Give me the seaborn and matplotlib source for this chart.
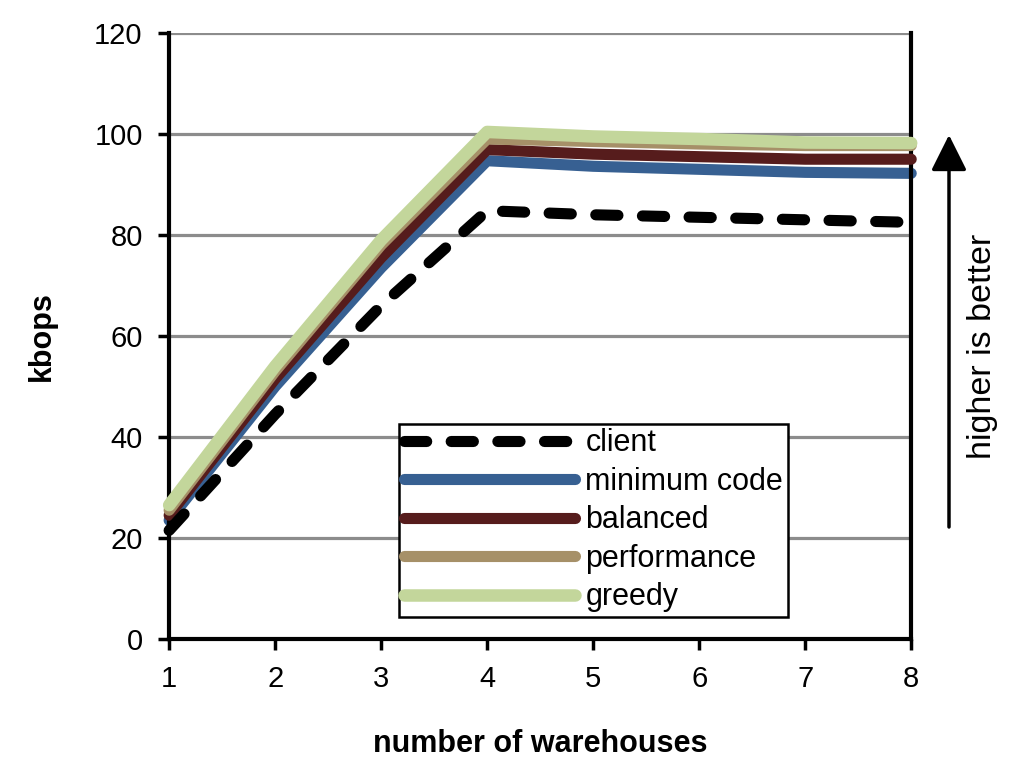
import pandas as pd
import matplotlib
matplotlib.use('Agg')
import matplotlib.pyplot as plt
import seaborn as sns

# Data
warehouses = [1, 2, 3, 4, 5, 6, 7, 8]
client = [21.5, 44.5, 66, 84.8, 84, 83.5, 83, 82.5]
minimum_code = [23.5, 50, 73.5, 94.7, 93.6, 93, 92.4, 92.2]
balanced = [24.5, 51.5, 75.5, 96.9, 96, 95.5, 95, 95]
performance = [25.5, 53, 78, 99, 98.5, 98, 97.7, 97.7]
greedy = [26.5, 54, 79, 100.4, 99.5, 99, 98.3, 98.2]

series = ['client', 'minimum code', 'balanced', 'performance', 'greedy']
colors = ['#000000', '#376092', '#561c1c', '#a69068', '#c3d69b']
widths = [8, 8, 8, 8, 9]
zorders = [6, 2, 3, 4, 5]

df = pd.DataFrame({'warehouses': warehouses, 'client': client,
                   'minimum code': minimum_code, 'balanced': balanced,
                   'performance': performance, 'greedy': greedy})
long_df = df.melt(id_vars='warehouses', var_name='config', value_name='kbops')

sns.set_theme(style='white')
plt.rcParams['font.family'] = ['Liberation Sans', 'DejaVu Sans']
plt.rcParams['text.color'] = 'black'
plt.rcParams['xtick.color'] = 'black'
plt.rcParams['ytick.color'] = 'black'
plt.rcParams['axes.labelcolor'] = 'black'

fig = plt.figure(figsize=(10.25, 7.77), dpi=100)
ax = fig.add_axes([0.165, 0.1776, 0.724, 0.78])

for name, c, lw, z in zip(series, colors, widths, zorders):
    sub = long_df[long_df['config'] == name]
    sns.lineplot(data=sub, x='warehouses', y='kbops', ax=ax, color=c, lw=lw,
                 label=name, solid_capstyle='round', dash_capstyle='round',
                 zorder=z, clip_on=False)

ax.lines[0].set_dashes([2.0, 2.2])

ax.set_xlim(1, 8)
ax.set_ylim(0, 120)
ax.set_xticks(warehouses)
ax.set_yticks(range(0, 121, 20))
ax.yaxis.grid(True, color='#8c8c8c', lw=2.3)
ax.set_axisbelow(True)
for s in ['left', 'bottom', 'right']:
    ax.spines[s].set_color('black')
    ax.spines[s].set_linewidth(3)
ax.spines['top'].set_visible(False)
ax.tick_params(axis='both', which='major', direction='out', length=8, width=2.5,
               labelsize=21, left=True, bottom=True)
ax.tick_params(axis='y', pad=11)
ax.tick_params(axis='x', pad=11)

ax.set_xlabel('number of warehouses', fontsize=22, fontweight='bold')
ax.set_ylabel('kbops', fontsize=22, fontweight='bold')
ax.xaxis.set_label_coords(0.5, -0.148)
ax.yaxis.set_label_coords(-0.151, 0.5)

leg = ax.legend(loc='lower left', bbox_to_anchor=(399 / 1025, 1 - 617 / 777),
                bbox_transform=fig.transFigure, frameon=True, framealpha=1,
                fontsize=22, handlelength=5.6, handletextpad=0.35,
                borderpad=0.15, labelspacing=0.28, fancybox=False,
                borderaxespad=0)
leg.get_frame().set_edgecolor('black')
leg.get_frame().set_linewidth(1.8)
leg.set_zorder(10)

fig.patches.append(matplotlib.patches.FancyArrowPatch(
    (949 / 1025, 1 - 527 / 777), (949 / 1025, 1 - 135 / 777),
    transform=fig.transFigure, arrowstyle='-|>,head_length=22,head_width=11',
    color='black', lw=2.5, mutation_scale=1, shrinkA=0, shrinkB=0))
fig.text(983 / 1025, 1 - 346 / 777, 'higher is better', rotation=90,
         fontsize=24.5, ha='center', va='center')

fig.savefig('out.png', dpi=100, facecolor='white')
